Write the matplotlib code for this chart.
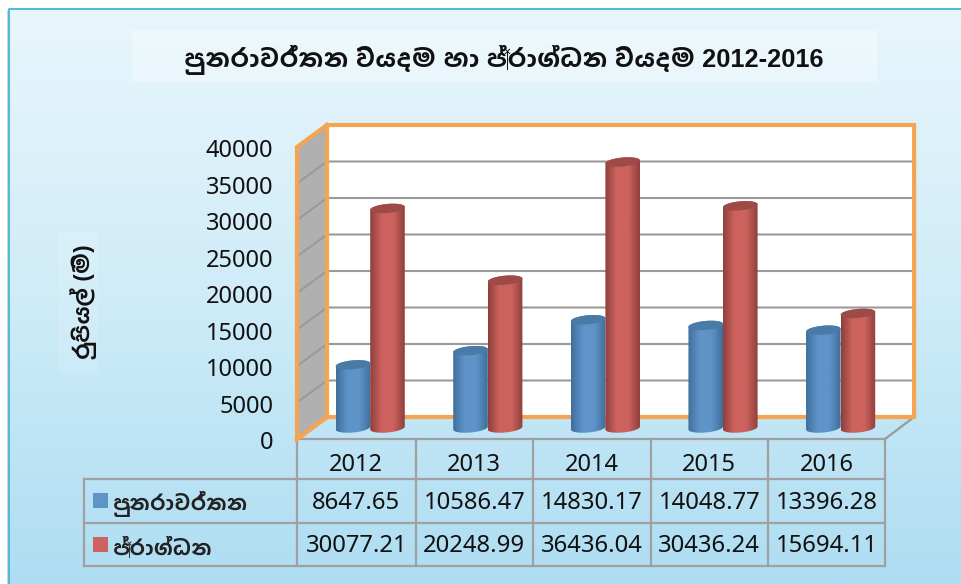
import numpy as np
import matplotlib
matplotlib.use("Agg")
import matplotlib.pyplot as plt
from matplotlib.colors import LinearSegmentedColormap
from matplotlib.patches import Polygon, Rectangle
from matplotlib.transforms import ScaledTranslation

years = ["2012", "2013", "2014", "2015", "2016"]
recurrent = [8647.65, 10586.47, 14830.17, 14048.77, 13396.28]
capital = [30077.21, 20248.99, 36436.04, 30436.24, 15694.11]
recurrent_labels = ["8647.65", "10586.47", "14830.17", "14048.77", "13396.28"]
capital_labels = ["30077.21", "20248.99", "36436.04", "30436.24", "15694.11"]
yticks = [0, 5000, 10000, 15000, 20000, 25000, 30000, 35000, 40000]
title = "පුනරාවර්තන වියදම හා ප්‍රාග්ධන වියදම 2012-2016"
ylabel = "රුපියල් (මි)"
name_recurrent = "පුනරාවර්තන"
name_capital = "ප්‍රාග්ධන"

# Liberation gives bold digits and a real space, sinhala falls through to Hind Colombo
fam = ["Liberation Sans", "Hind Colombo"]
plt.rcParams["font.family"] = ["Noto Sans", "DejaVu Sans"]

W, H = 961, 584
fig = plt.figure(figsize=(W / 100, H / 100), dpi=100)

# pixel layer for background and table
px = fig.add_axes([0, 0, 1, 1], zorder=0)
px.axis("off")
bg = LinearSegmentedColormap.from_list("bg", ["#E9F6FC", "#CFECF8", "#AEDDF2"])
px.imshow(np.linspace(0, 1, 256)[:, None], cmap=bg, extent=[9, W, H, 9], aspect="auto")
px.set_xlim(0, W)
px.set_ylim(H, 0)
px.plot([7.5, 7.5], [H, 11], color="#C8CDD0", lw=1.2)
px.plot([9, 9, W], [H, 9, 9], color="#4DBBD5", lw=1.4)
px.add_patch(Rectangle((132, 30), 745, 52, fc="white", ec="none", alpha=0.3))
px.add_patch(Rectangle((58, 232), 40, 140, fc="white", ec="none", alpha=0.12))
px.text(504, 60, title, ha="center", va="center", fontsize=18.3, fontweight="bold", family=fam, color="#111111")
px.text(84, 302, ylabel, ha="center", va="center", rotation=90, fontsize=16, fontweight="bold", family=fam, color="#111111")

# table
grid_c = "#A0A0A0"
col_x = [297, 415.6, 533, 650.6, 768, 885]
for x in col_x:
    px.plot([x, x], [439, 566], color=grid_c, lw=1.6)
px.plot([297, 885], [439, 439], color=grid_c, lw=1.6)
for y in [479, 523, 566]:
    px.plot([84, 885], [y, y], color=grid_c, lw=1.6)
px.plot([84, 84], [479, 566], color=grid_c, lw=1.6)
for i in range(5):
    cx = (col_x[i] + col_x[i + 1]) / 2
    px.text(cx, 465, years[i], ha="center", va="center", fontsize=17, color="#111111")
    px.text(cx, 503, recurrent_labels[i], ha="center", va="center", fontsize=17.2, color="#111111")
    px.text(cx, 546, capital_labels[i], ha="center", va="center", fontsize=17.2, color="#111111")
px.add_patch(Rectangle((93, 493), 15, 15, fc="#5F94C9", ec="none"))
px.add_patch(Rectangle((93, 537), 15, 15, fc="#CD625E", ec="none"))
px.text(113, 504, name_recurrent, ha="left", va="center", fontsize=15, fontweight="bold", family=fam, color="#222222")
px.text(113, 548, name_capital, ha="left", va="center", fontsize=15, fontweight="bold", family=fam, color="#222222")

# chart layer, front plane of the 3d box
ax = fig.add_axes([297 / W, 1 - 439 / H, 588 / W, 292 / H], zorder=1)
ax.patch.set_alpha(0)
for s in ax.spines.values():
    s.set_visible(False)

ymax = 40000
dx = 30 / 588 * 5  # depth in category units
dy = 22 / 292 * ymax  # depth in value units
xr = 5 + dx * 0.97
orange = "#F5A452"
line_c = "#9A9A9A"

ax.add_patch(Polygon([(dx, dy), (xr, dy), (xr, ymax + dy), (dx, ymax + dy)], fc="white", ec="none", zorder=1, clip_on=False))
ax.add_patch(Polygon([(0, 0), (dx, dy), (dx, ymax + dy), (0, ymax)], fc="#B0B0B0", ec="none", zorder=1, clip_on=False))
for v in yticks[1:-1]:
    ax.plot([0, dx, xr], [v, v + dy, v + dy], color=line_c, lw=1.5, zorder=2, clip_on=False)
ax.plot([5, xr], [0, dy], color=line_c, lw=1.6, zorder=2, clip_on=False)
ax.plot([0, dx, xr, xr, dx, dx], [0, dy, dy, ymax + dy, ymax + dy, dy],
        color=orange, lw=3, zorder=3, clip_on=False, solid_joinstyle="miter")
ax.plot([dx, 0, 0, dx], [ymax + dy, ymax, 0, dy], color=orange, lw=3, zorder=3, clip_on=False, solid_joinstyle="miter")

blue_side = LinearSegmentedColormap.from_list("b", ["#3F6E9C", "#5F94C9", "#5F94C9", "#3F6E9C"])
red_side = LinearSegmentedColormap.from_list("r", ["#8F3F3C", "#CD625E", "#CD625E", "#8F3F3C"])
grad = np.linspace(0, 1, 128)[None, :]


def cylinder(xc, value, side, top_c, z):
    a = 0.147
    b = 4.5 / 292 * ymax
    tilt = 1.5 / 292 * ymax
    y0 = dy / 2
    t = np.linspace(0, np.pi, 60)
    xs = xc + a * np.cos(t)
    low = y0 - b * np.sin(t) + tilt * np.cos(t)
    up = y0 + value + b * np.sin(t) + tilt * np.cos(t)
    body = Polygon(np.r_[np.c_[xs, low], np.c_[xs[::-1], up[::-1]]], fc="none", ec="none", clip_on=False)
    ax.add_patch(body)
    im = ax.imshow(grad, cmap=side, extent=[xc - a, xc + a, -2000, ymax + dy], aspect="auto", zorder=z, clip_on=True)
    im.set_clip_path(body)
    tt = np.linspace(0, 2 * np.pi, 80)
    ax.add_patch(Polygon(np.c_[xc + a * np.cos(tt), y0 + value + b * np.sin(tt) + tilt * np.cos(tt)],
                         fc=top_c, ec="none", zorder=z + 0.1, clip_on=False))


for i in range(5):
    xc = i + 0.5 + dx / 2 - 0.005
    cylinder(xc - 0.147, recurrent[i], blue_side, "#4A7BA6", 4 + i)
    cylinder(xc + 0.147, capital[i], red_side, "#9E4B48", 4.5 + i)

ax.set_xlim(0, 5)
ax.set_ylim(0, ymax)
ax.set_xticks([])
ax.set_yticks(yticks)
ax.tick_params(axis="y", length=0, pad=17, labelsize=17, labelcolor="#111111")
shift = ScaledTranslation(0, -1 / 72, fig.dpi_scale_trans)
for lab in ax.get_yticklabels():
    lab.set_transform(lab.get_transform() + shift)

fig.savefig("out.png", dpi=100)
